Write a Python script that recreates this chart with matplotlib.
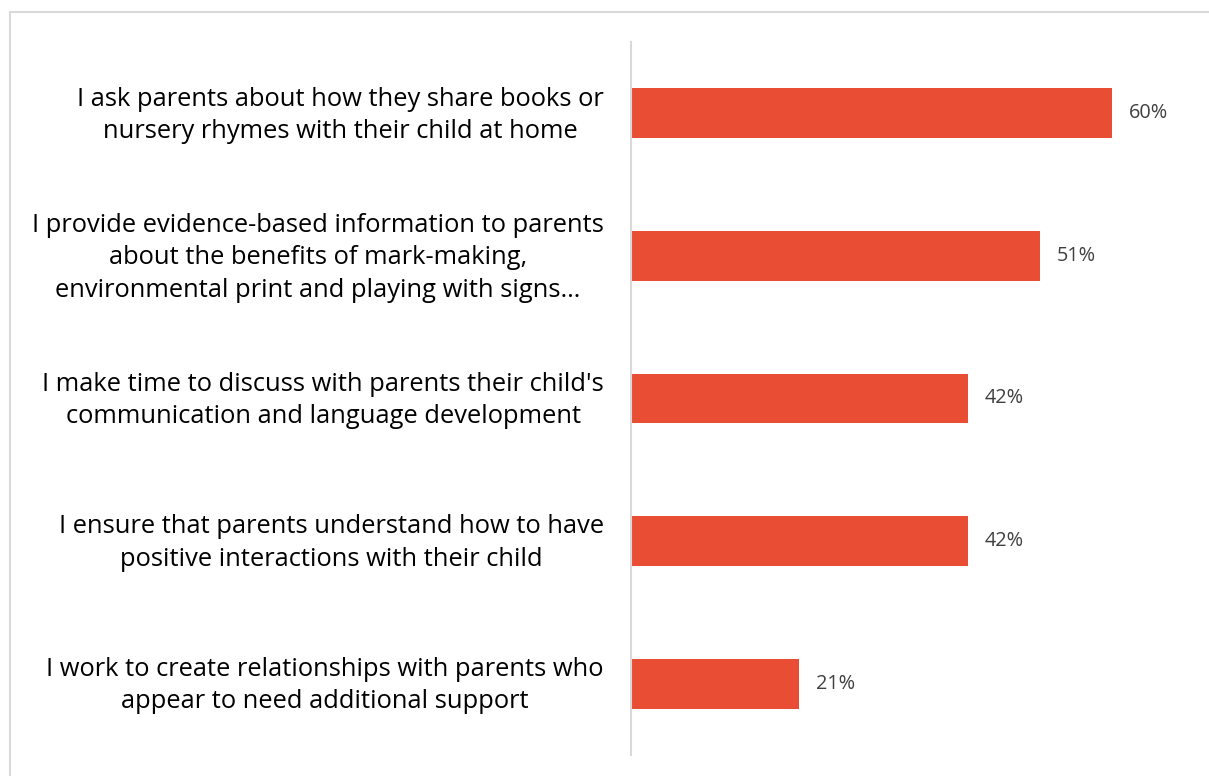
import matplotlib.pyplot as plt
import matplotlib.transforms as mtransforms
from matplotlib.patches import Rectangle

plt.rcParams['font.family'] = ['Open Sans', 'DejaVu Sans']

# survey statements, top to bottom
labels = [
    "I ask parents about how they share books or\nnursery rhymes with their child at home",
    "I provide evidence-based information to parents\nabout the benefits of mark-making,\nenvironmental print and playing with signs\u2026",
    "I make time to discuss with parents their child's\ncommunication and language development",
    "I ensure that parents understand how to have\npositive interactions with their child",
    "I work to create relationships with parents who\nappear to need additional support",
]
values = [60, 51, 42, 42, 21]

fig = plt.figure(figsize=(12.09, 7.76), dpi=100)
ax = fig.add_axes([0.5219, 0.0271, 0.464, 0.9188])

pos = list(range(len(values)))
ax.barh(pos, values, height=0.35, color='#E94E35', edgecolor='none')
ax.set_ylim(len(values) - 0.5, -0.5)
ax.set_xlim(0, 70)

for y, v in zip(pos, values):
    ax.text(v + 2.1, y, f"{v}%", va='center', ha='left', fontsize=14.3, color='#404040')

# category labels: right edge 27px left of the axis, lines centred
shift = mtransforms.ScaledTranslation(-0.27, -0.02, fig.dpi_scale_trans)
for y, lab in zip(pos, labels):
    ax.text(0, y, lab, transform=ax.get_yaxis_transform() + shift,
            ha='right', va='center', multialignment='center',
            fontsize=18.4, linespacing=1.38, color='#000000')

ax.set_yticks([])
ax.set_xticks([])

for s in ['top', 'right', 'bottom']:
    ax.spines[s].set_visible(False)
ax.spines['left'].set_color('#D9D9D9')
ax.spines['left'].set_linewidth(1.5)

# light frame around the chart area
fig.patches.append(Rectangle((10 / 1209, -0.1), 1.2, 1 - 12 / 776 + 0.1,
                             transform=fig.transFigure, fill=False,
                             edgecolor='#D9D9D9', linewidth=1.5))

fig.savefig('out.png', dpi=100)
